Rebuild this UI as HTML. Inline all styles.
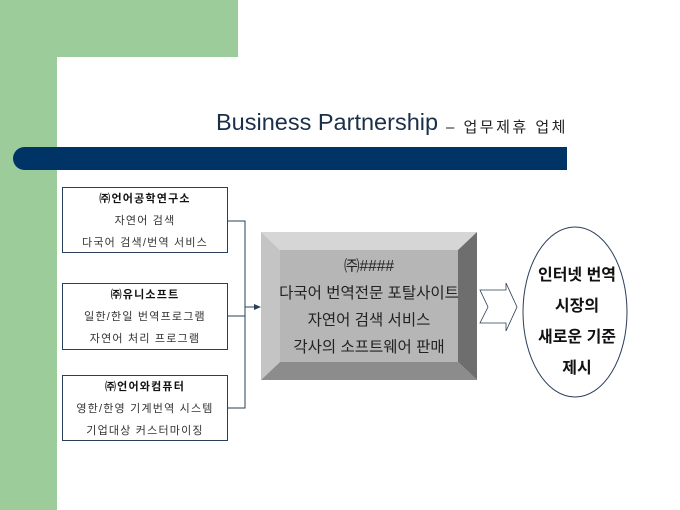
<!DOCTYPE html>
<html><head><meta charset="utf-8"><style>
body{margin:0;width:680px;height:510px;overflow:hidden;background:#fff;font-family:"Liberation Sans","Noto Sans CJK KR",sans-serif;}
.a{position:absolute}
.box{position:absolute;left:62px;width:164px;border:1px solid #2a3f5a;background:#fff;text-align:center;font-size:11px;color:#333;line-height:22px;letter-spacing:1.2px}
.box b{color:#111}
</style></head><body>
<div class="a" style="left:0;top:0;width:238px;height:57px;background:#9ccc9a"></div>
<div class="a" style="left:0;top:0;width:57px;height:510px;background:#9ccc9a"></div>
<div class="a" style="left:57px;top:57px;width:40px;height:40px;background:#fff;border-top-left-radius:26px"></div>
<div class="a" style="left:216px;top:109px;font-size:23.5px;color:#1a2f4a;white-space:nowrap">Business Partnership</div>
<div class="a" style="left:446px;top:116px;font-size:15px;color:#222;letter-spacing:2.5px;white-space:nowrap">–&nbsp;업무제휴 업체</div>
<div class="a" style="left:13px;top:147px;width:554px;height:23px;background:#003366;border-radius:12px 0 0 12px"></div>
<div class="box" style="top:187px;height:64px"><b>㈜언어공학연구소</b><br>자연어 검색<br>다국어 검색/번역 서비스</div>
<div class="box" style="top:283px;height:65px"><b>㈜유니소프트</b><br>일한/한일 번역프로그램<br>자연어 처리 프로그램</div>
<div class="box" style="top:375px;height:64px"><b>㈜언어와컴퓨터</b><br>영한/한영 기계번역 시스템<br>기업대상 커스터마이징</div>
<svg class="a" style="left:0;top:0" width="680" height="510">
<g stroke="#2a3f5a" stroke-width="1" fill="none">
<polyline points="227,221 245,221 245,408 227,408"/>
<line x1="227" y1="316" x2="245" y2="316"/>
<line x1="245" y1="307" x2="256" y2="307"/>
</g>
<polygon points="261,307 254,304 254,310" fill="#2a3f5a"/>
<polygon points="261,232 477,232 458,250 280,250" fill="#d6d6d6"/>
<polygon points="261,232 280,250 280,362 261,380" fill="#c4c4c4"/>
<polygon points="477,232 477,380 458,362 458,250" fill="#6e6e6e"/>
<polygon points="261,380 280,362 458,362 477,380" fill="#8c8c8c"/>
<rect x="280" y="250" width="178" height="112" fill="#b6b6b6"/>
<polygon points="480,290 506,290 506,283 517,307 506,331 506,323 480,323 488,307" fill="#fff" stroke="#2a3f5a" stroke-width="0.8"/>
<ellipse cx="575" cy="312" rx="52" ry="85" fill="#fff" stroke="#2a3f5a" stroke-width="1"/>
</svg>
<div class="a" style="left:272px;top:253px;width:194px;text-align:center;font-size:15.5px;line-height:27px;color:#222">㈜####<br>다국어 번역전문 포탈사이트<br>자연어 검색 서비스<br>각사의 소프트웨어 판매</div>
<div class="a" style="left:522px;top:260px;width:110px;text-align:center;font-size:16px;font-weight:bold;line-height:31px;color:#111">인터넷 번역<br>시장의<br>새로운 기준<br>제시</div>
</body></html>
